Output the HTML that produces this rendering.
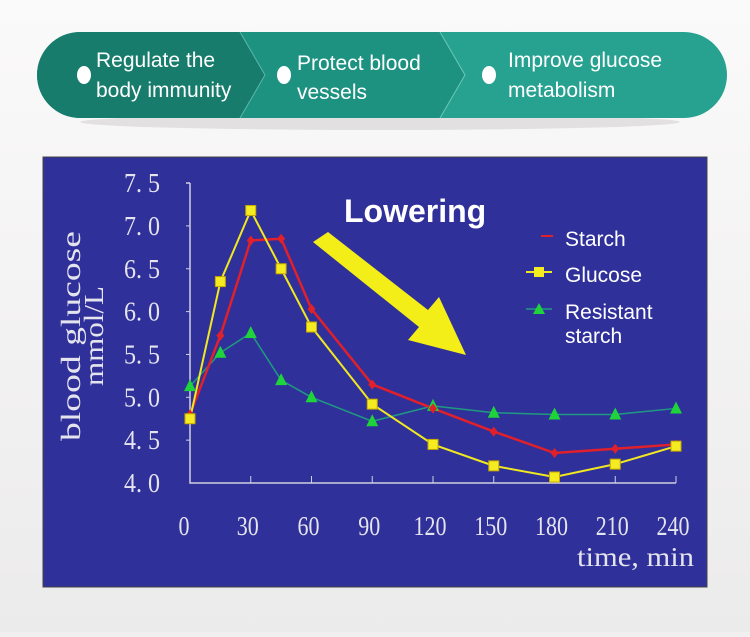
<!DOCTYPE html>
<html><head><meta charset="utf-8"><style>
body{margin:0;width:750px;height:632px;background:#f1efef;overflow:hidden;font-family:"Liberation Sans",sans-serif}
</style></head><body>
<svg width="750" height="632" xmlns="http://www.w3.org/2000/svg" id="s">
<defs>
<linearGradient id="bg" x1="0" y1="0" x2="0" y2="1"><stop offset="0" stop-color="#fbfafa"/><stop offset="1" stop-color="#ecebeb"/></linearGradient>
</defs>
<rect width="750" height="632" fill="url(#bg)"/>
<ellipse cx="380" cy="122" rx="300" ry="8" fill="#d8d6d6" opacity="0.7"/>
<rect x="37" y="32" width="690" height="86" rx="43" fill="#27a190"/>
<path d="M80 32 H240 L265 75 L240 118 H80 A43 43 0 0 1 80 32Z" fill="#177c6c"/>
<path d="M240 32 H440 L465 75 L440 118 H240 L265 75Z" fill="#1e9281"/>
<path d="M440 32 L465 75 L440 118" fill="none" stroke="#6cc8b8" stroke-width="1"/>
<path d="M240 32 L265 75 L240 118" fill="none" stroke="#5ab8a8" stroke-width="1"/>
<ellipse cx="84" cy="75" rx="7" ry="9" fill="#fff"/>
<ellipse cx="284" cy="75" rx="7" ry="9" fill="#fff"/>
<ellipse cx="489" cy="75" rx="7" ry="9" fill="#fff"/>
<g fill="#fff" font-size="21">
<text x="96" y="67">Regulate the</text><text x="96" y="97">body immunity</text>
<text x="297" y="70">Protect blood</text><text x="297" y="99">vessels</text>
<text x="508" y="67">Improve glucose</text><text x="508" y="97">metabolism</text>
</g>
<rect x="43" y="157" width="664" height="430" fill="#30309a" stroke="#444" stroke-width="1"/>
<g id="ch"></g>
</svg>
<script>
var g=document.getElementById('ch'),h='';
function X(t){return 190+t*(676-190)/240}
function Y(v){return 483-(v-4)*85.7}
var T=[0,15,30,45,60,90,120,150,180,210,240];
var st=[4.8,5.72,6.83,6.85,6.03,5.15,4.87,4.6,4.35,4.4,4.45];
var gl=[4.75,6.35,7.18,6.5,5.82,4.92,4.45,4.2,4.07,4.22,4.43];
var rs=[5.13,5.52,5.75,5.2,5.0,4.72,4.9,4.82,4.8,4.8,4.87];
h+='<path d="M190 183 H186 M190 183 V483 H676" stroke="#d0d0e0" stroke-width="1.5" fill="none"/>';
for(var v=4.5;v<7.6;v+=0.5)h+='<line x1="190" x2="186" y1="'+Y(v)+'" y2="'+Y(v)+'" stroke="#d0d0e0"/>';
[30,60,90,120,150,180,210,240].forEach(function(t){h+='<line x1="'+X(t)+'" x2="'+X(t)+'" y1="483" y2="476" stroke="#d0d0e0"/>'});
var f='font-family="Liberation Serif,serif" fill="#e4e4ee" font-size="27"';
for(var i=0;i<8;i++){var v=4+i*0.5;h+='<text x="142" y="'+(Y(v)+9)+'" '+f+' text-anchor="middle" textLength="36" lengthAdjust="spacingAndGlyphs">'+v.toFixed(1).replace('.','. ')+'</text>'}
[0,30,60,90,120,150,180,210,240].forEach(function(t){var w=String(t).length*11;h+='<text x="'+(X(t)-w/2-(t==0?6:3))+'" y="535" '+f+' textLength="'+w+'" lengthAdjust="spacingAndGlyphs">'+t+'</text>'});
h+='<text x="577" y="566" '+f+' textLength="117" lengthAdjust="spacingAndGlyphs">time, min</text>';
h+='<text transform="translate(80,336) rotate(-90)" '+f+' text-anchor="middle" font-size="29" textLength="210" lengthAdjust="spacingAndGlyphs">blood glucose</text>';
h+='<text transform="translate(103,336) rotate(-90)" '+f+' text-anchor="middle" font-size="26" textLength="100" lengthAdjust="spacingAndGlyphs">mmol/L</text>';
function line(d,c,w){return '<polyline fill="none" stroke="'+c+'" stroke-width="'+w+'" points="'+d.map(function(v,i){return X(T[i])+','+Y(v)}).join(' ')+'"/>'}
h+=line(rs,'#1f9a80',1.5)+line(st,'#e0202a',2.5)+line(gl,'#f0e820',2);
rs.forEach(function(v,i){var x=X(T[i]),y=Y(v);h+='<polygon points="'+x+','+(y-7)+' '+(x-6)+','+(y+5)+' '+(x+6)+','+(y+5)+'" fill="#1ed43a"/>'});
st.forEach(function(v,i){var x=X(T[i]),y=Y(v);h+='<polygon points="'+x+','+(y-5)+' '+(x+4)+','+y+' '+x+','+(y+5)+' '+(x-4)+','+y+'" fill="#e0202a"/>'});
gl.forEach(function(v,i){var x=X(T[i]),y=Y(v);h+='<rect x="'+(x-5)+'" y="'+(y-5)+'" width="10" height="10" fill="#f4ec20" stroke="#c8a800"/>'});
h+='<polygon points="313,242 328,232 428,310 439,297 466,355 408,340 419,327" fill="#f4ee18"/>';
h+='<text x="344" y="222" fill="#fff" font-size="32" font-weight="bold">Lowering</text>';
h+='<line x1="541" x2="553" y1="236" y2="236" stroke="#e0202a" stroke-width="2"/>';
h+='<line x1="526" x2="552" y1="272" y2="272" stroke="#f0e820" stroke-width="2"/><rect x="534" y="267" width="10" height="10" fill="#f4ec20"/>';
h+='<line x1="526" x2="552" y1="309" y2="309" stroke="#1f9a80" stroke-width="1.5"/><polygon points="539,303 533,314 545,314" fill="#1ed43a"/>';
var lf='fill="#fff" font-size="21"';
h+='<text x="565" y="246" '+lf+'>Starch</text><text x="565" y="282" '+lf+'>Glucose</text><text x="565" y="319" '+lf+'>Resistant</text><text x="565" y="343" '+lf+'>starch</text>';
g.innerHTML=h;
</script>
</body></html>
